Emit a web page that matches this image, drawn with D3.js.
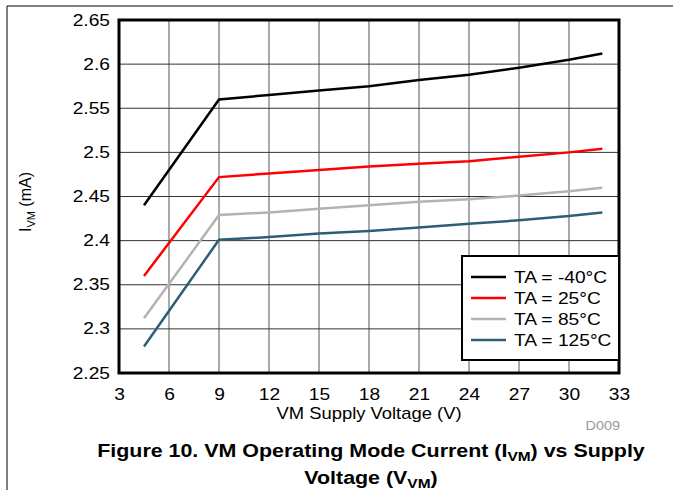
<!DOCTYPE html>
<html>
<head>
<meta charset="utf-8">
<script src="https://d3js.org/d3.v7.min.js"></script>
<style>
  body { margin: 0; background: #fff; }
  svg text { font-family: "Liberation Sans", Arial, sans-serif; }
</style>
</head>
<body>
<svg id="chart"></svg>
<script>
const width = 673, height = 490;

// supply voltage (V)
const voltages = [4.5, 9, 12, 15, 18, 21, 24, 27, 30, 32];
// I_VM (mA) per temperature
const ivmMinus40 = [2.440, 2.560, 2.565, 2.570, 2.575, 2.582, 2.588, 2.596, 2.605, 2.612];
const ivm25      = [2.360, 2.472, 2.476, 2.480, 2.484, 2.487, 2.490, 2.495, 2.500, 2.504];
const ivm85      = [2.312, 2.429, 2.432, 2.436, 2.440, 2.444, 2.447, 2.451, 2.456, 2.460];
const ivm125     = [2.280, 2.401, 2.404, 2.408, 2.411, 2.415, 2.419, 2.423, 2.428, 2.432];
const seriesNames = ["TA = -40°C", "TA = 25°C", "TA = 85°C", "TA = 125°C"];
const seriesColors = ["#000000", "#ff0000", "#b3b3b3", "#2e5e76"];
const xTicks = [3, 6, 9, 12, 15, 18, 21, 24, 27, 30, 33];
const yTicks = [2.25, 2.3, 2.35, 2.4, 2.45, 2.5, 2.55, 2.6, 2.65];

const series = [ivmMinus40, ivm25, ivm85, ivm125].map((vals, i) => ({
  name: seriesNames[i], color: seriesColors[i],
  points: vals.map((v, j) => [voltages[j], v])
}));

const SX = 1.2; // text in the source is a bit wide
const margin = {left: 119, right: 54, top: 20, bottom: 117};
const svg = d3.select('#chart').attr('width', width).attr('height', height);

// wide text helper
function wideText(px, py, size, opts = {}) {
  const g = svg.append('g').attr('transform', `translate(${px},${py}) ${opts.rotate ? 'rotate(' + opts.rotate + ')' : ''} scale(${opts.sx || SX},1)`);
  return g.append('text').attr('x', 0).attr('y', 0)
    .attr('text-anchor', opts.anchor || 'middle')
    .attr('font-size', size)
    .attr('font-weight', opts.bold ? 'bold' : null)
    .attr('fill', opts.fill || '#000');
}

// page border lines
svg.append('line').attr('x1', 7).attr('x2', width).attr('y1', 6).attr('y2', 6)
  .attr('stroke', '#000').attr('stroke-width', 1);
svg.append('line').attr('x1', 7).attr('x2', 7).attr('y1', 6).attr('y2', height)
  .attr('stroke', '#000').attr('stroke-width', 1);

const x = d3.scaleLinear().domain([3, 33]).range([margin.left, width - margin.right]);
const y = d3.scaleLinear().domain([2.25, 2.65]).range([height - margin.bottom, margin.top]);

// grid
svg.append('g').selectAll('line').data(xTicks).join('line')
  .attr('x1', d => x(d)).attr('x2', d => x(d))
  .attr('y1', y(2.25)).attr('y2', y(2.65))
  .attr('stroke', '#555').attr('stroke-width', 1);
svg.append('g').selectAll('line').data(yTicks).join('line')
  .attr('x1', x(3)).attr('x2', x(33))
  .attr('y1', d => y(d)).attr('y2', d => y(d))
  .attr('stroke', '#333').attr('stroke-width', 1);

// axes labels (no tick marks)
const xAxis = svg.append('g').attr('transform', `translate(0,${y(2.25)})`)
  .call(d3.axisBottom(x).tickValues(xTicks).tickSize(0).tickPadding(16).tickFormat(d3.format('d')));
const yAxis = svg.append('g').attr('transform', `translate(${x(3)},0)`)
  .call(d3.axisLeft(y).tickValues(yTicks).tickSize(0).tickPadding(7.5).tickFormat(d => String(+d.toFixed(2))));
[xAxis, yAxis].forEach(a => {
  a.select('.domain').remove();
  a.selectAll('text').attr('font-size', 16).attr('fill', '#000')
    .attr('font-family', '"Liberation Sans", Arial, sans-serif')
    .attr('transform', `scale(${SX},1)`);
});

// lines
const line = d3.line().x(d => x(d[0])).y(d => y(d[1]));
svg.append('g').selectAll('path').data(series).join('path')
  .attr('d', d => line(d.points))
  .attr('fill', 'none')
  .attr('stroke', d => d.color)
  .attr('stroke-width', 2.5);

// frame
svg.append('rect')
  .attr('x', x(3)).attr('y', y(2.65))
  .attr('width', x(33) - x(3)).attr('height', y(2.25) - y(2.65))
  .attr('fill', 'none').attr('stroke', '#000').attr('stroke-width', 3);

// legend
const lg = svg.append('g');
lg.append('rect').attr('x', 462).attr('y', 256).attr('width', 157).attr('height', 104)
  .attr('fill', '#fff').attr('stroke', '#000').attr('stroke-width', 2);
const items = lg.selectAll('g.item').data(series).join('g')
  .attr('class', 'item')
  .attr('transform', (d, i) => `translate(471,${277 + i * 21})`);
items.append('line').attr('x1', 0).attr('x2', 35).attr('y1', 0).attr('y2', 0)
  .attr('stroke', d => d.color).attr('stroke-width', 2.5);
items.append('text').attr('x', 43 / SX).attr('y', 0).attr('dy', '0.35em')
  .attr('transform', `scale(${SX},1)`)
  .attr('font-size', 16).text(d => d.name);

// axis titles
wideText((x(3) + x(33)) / 2, 419, 16, {sx: 1.15}).text('VM Supply Voltage (V)');

const yt = wideText(31, 202, 16, {rotate: -90, sx: 1.0});
yt.append('tspan').text('I');
yt.append('tspan').attr('font-size', 11).attr('dy', 4).text('VM');
yt.append('tspan').attr('dy', -4).text(' (mA)');

wideText(620, 430, 12, {anchor: 'end', fill: '#999'}).text('D009');

// caption
const cap1 = wideText(371, 457, 18, {bold: true, sx: 1.19});
cap1.append('tspan').text('Figure 10. VM Operating Mode Current (I');
cap1.append('tspan').attr('font-size', 13).attr('dy', 4).text('VM');
cap1.append('tspan').attr('dy', -4).text(') vs Supply');
const cap2 = wideText(371, 484, 18, {bold: true, sx: 1.19});
cap2.append('tspan').text('Voltage (V');
cap2.append('tspan').attr('font-size', 13).attr('dy', 4).text('VM');
cap2.append('tspan').attr('dy', -4).text(')');
</script>
</body>
</html>
